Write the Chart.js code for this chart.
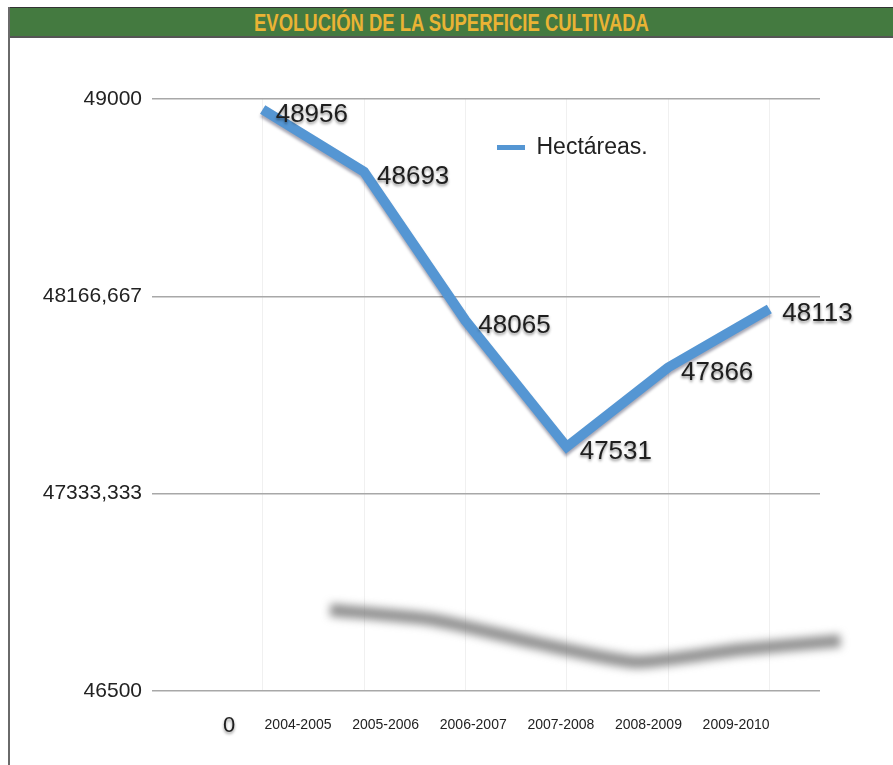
<!DOCTYPE html>
<html>
<head>
<meta charset="utf-8">
<script src="https://cdn.jsdelivr.net/npm/chart.js@4.4.1/dist/chart.umd.min.js"></script>
<style>
  body { margin: 0; background: #fff; }
  #wrap { position: relative; width: 893px; height: 765px; overflow: hidden; }
  #frame { position: absolute; left: 8px; top: 7px; width: 2px; height: 758px; background: #6a6a6a; }
  #title {
    position: absolute; left: 10px; top: 7px; width: 883px; height: 28px;
    background: #447a40; border-top: 1px solid #333; border-bottom: 2px solid #555;
    text-align: center; line-height: 29px;
  }
  #title span {
    display: inline-block; color: #eab334;
    font-family: "Liberation Sans", Arial, sans-serif;
    font-size: 24px; font-weight: bold; transform-origin: center;
  }
  #box { position: absolute; left: 11px; top: 40px; width: 882px; height: 725px; }
</style>
</head>
<body>
<div id="wrap">
  <div id="frame"></div>
  <div id="title"><span id="titleText">EVOLUCIÓN DE LA SUPERFICIE CULTIVADA</span></div>
  <div id="box"><canvas id="superficieChart"></canvas></div>
</div>
<script>
// Campañas y hectáreas cultivadas
const campanas = ['2004-2005', '2005-2006', '2006-2007', '2007-2008', '2008-2009', '2009-2010'];
const hectareas = [48956, 48693, 48065, 47531, 47866, 48113];
const yTicks = [46500, 47333.333, 48166.667, 49000];

// titulo estrecho, como en el original
const titleSpan = document.getElementById('titleText');
titleSpan.style.transform = 'scaleX(' + (395 / titleSpan.offsetWidth) + ')';

const ctx = document.getElementById('superficieChart').getContext('2d');

// etiquetas de valor junto a cada punto, y el "0" del eje
const valueLabels = {
    id: 'valueLabels',
    afterLayout(chart) {
        // colocar la leyenda dentro del area, arriba a la derecha de la linea
        const lg = chart.legend;
        lg.left += 275;
        lg.right += 275;
        lg.top += 86;
        lg.bottom += 86;
    },
    afterDatasetsDraw(chart) {
        const c = chart.ctx;
        const meta = chart.getDatasetMeta(0);
        c.save();
        c.font = '26px "Liberation Sans", Arial, sans-serif';
        c.fillStyle = '#1e1e1e';
        c.textAlign = 'left';
        c.textBaseline = 'middle';
        c.shadowColor = 'rgba(0,0,0,0.45)';
        c.shadowBlur = 3;
        c.shadowOffsetY = 2;
        meta.data.forEach((pt, i) => {
            c.fillText(String(hectareas[i]), pt.x + 13, pt.y + 5);
        });
        c.font = '22px "Liberation Sans", Arial, sans-serif';
        c.textAlign = 'center';
        c.fillText('0', chart.chartArea.left + 17, chart.chartArea.bottom + 35);
        c.restore();
    },
    beforeDatasetDraw(chart, args) {
        const c = chart.ctx;
        c.save();
        if (args.index === 1) {
            c.filter = 'blur(4px)';
        } else {
            c.shadowColor = 'rgba(0,0,40,0.35)';
            c.shadowBlur = 3;
            c.shadowOffsetY = 3;
        }
    },
    afterDatasetDraw(chart) {
        chart.ctx.restore();
    }
};

new Chart(ctx, {
    type: 'line',
    data: {
        labels: campanas,
        datasets: [{
            label: 'Hectáreas.',
            data: hectareas,
            borderColor: '#5596d3',
            backgroundColor: '#5596d3',
            borderWidth: 10,
            pointRadius: 0,
            tension: 0,
            order: 0
        }, {
            // reflejo gris bajo la linea
            label: 'reflejo',
            data: hectareas.map((v, i) => ({ x: i, y: v })),
            xAxisID: 'x2',
            yAxisID: 'y2',
            borderColor: 'rgba(110,110,110,0.75)',
            borderWidth: 13,
            pointRadius: 0,
            tension: 0.2,
            clip: false,
            order: 1
        }]
    },
    options: {
        responsive: true,
        maintainAspectRatio: false,
        animation: false,
        layout: { padding: { top: 59, right: 73, left: 0, bottom: 0 } },
        plugins: {
            tooltip: { enabled: false },
            legend: {
                position: 'chartArea',
                align: 'start',
                labels: {
                    boxWidth: 28,
                    boxHeight: 5,
                    color: '#222',
                    font: { size: 23, family: '"Liberation Sans", Arial, sans-serif' },
                    filter: (item) => item.datasetIndex === 0,
                    generateLabels(chart) {
                        const items = Chart.defaults.plugins.legend.labels.generateLabels(chart);
                        items.forEach(it => { it.lineWidth = 0; it.fillStyle = '#5596d3'; });
                        return items;
                    }
                }
            }
        },
        scales: {
            x: {
                type: 'category',
                offset: true,
                grid: { color: '#f0f0f0', drawTicks: false },
                border: { display: false },
                ticks: { display: false },
                afterFit(s) { s.height = 0; }
            },
            xLabels: {
                // rotulos de campaña, algo mas juntos que los puntos (perspectiva)
                type: 'linear',
                position: 'bottom',
                min: -0.982,
                max: 5.958,
                afterBuildTicks(s) { s.ticks = campanas.map((c, i) => ({ value: i })); },
                grid: { display: false },
                border: { display: false },
                ticks: {
                    padding: 18,
                    color: '#222',
                    font: { size: 14, family: '"Liberation Sans", Arial, sans-serif' },
                    callback: (v) => campanas[v]
                },
                afterFit(s) { s.height = 74; }
            },
            y: {
                min: 46500,
                max: 49000,
                afterBuildTicks(s) { s.ticks = yTicks.map(v => ({ value: v })); },
                grid: { color: '#a8a8a8', lineWidth: 1.5, tickLength: 60 },
                border: { display: false },
                ticks: {
                    padding: 10,
                    color: '#222',
                    font: { size: 21, family: '"Liberation Sans", Arial, sans-serif' },
                    callback: (v) => String(v).replace('.', ',')
                },
                afterFit(s) { s.width = 201; }
            },
            x2: { type: 'linear', display: false, min: -1.157, max: 4.8 },
            y2: { type: 'linear', display: false, min: 46736, max: 62959 }
        }
    },
    plugins: [valueLabels]
});
</script>
</body>
</html>
